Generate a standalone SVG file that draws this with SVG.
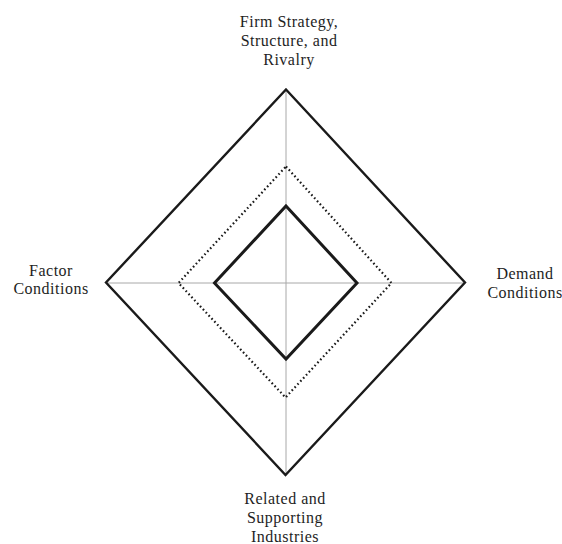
<svg xmlns="http://www.w3.org/2000/svg" width="562" height="544" viewBox="0 0 562 544">
<style>
.lbl{font-family:"Liberation Serif","Times New Roman",serif;font-size:16px;fill:#1e1e1e;text-anchor:middle;letter-spacing:0.5px}
.axis{stroke:#a8a8a8;stroke-width:1;fill:none}
.outer{stroke:#1a1a1a;stroke-width:2.4;fill:none;stroke-linejoin:miter}
.dot{stroke:#1a1a1a;stroke-width:2.2;fill:none;stroke-dasharray:1.6 2.6}
.inner{stroke:#1a1a1a;stroke-width:3;fill:none;stroke-linejoin:miter}
</style>
<rect width="562" height="544" fill="#ffffff"/>
<g id="connectors">
<line class="axis" x1="286" y1="90" x2="286" y2="475"/>
<line class="axis" x1="106" y1="283" x2="465" y2="283"/>
</g>
<g id="outer-diamond"><polygon class="outer" points="286,89.5 465,282.5 285.5,475 106,282.5"/></g>
<g id="dotted-diamond"><polygon class="dot" points="286,166.5 391.5,283 285.5,397.5 178.5,283"/></g>
<g id="inner-diamond"><polygon class="inner" points="286,206 357,283 286,359 214.5,283"/></g>
<g id="firm"><text class="lbl" x="289" y="27">Firm Strategy,</text><text class="lbl" x="289" y="46">Structure, and</text><text class="lbl" x="289" y="65">Rivalry</text></g>
<g id="factor"><text class="lbl" x="51" y="276">Factor</text><text class="lbl" x="51" y="294">Conditions</text></g>
<g id="demand"><text class="lbl" x="525" y="279">Demand</text><text class="lbl" x="525" y="298">Conditions</text></g>
<g id="related"><text class="lbl" x="285" y="504">Related and</text><text class="lbl" x="285" y="523">Supporting</text><text class="lbl" x="285" y="542">Industries</text></g>
</svg>
